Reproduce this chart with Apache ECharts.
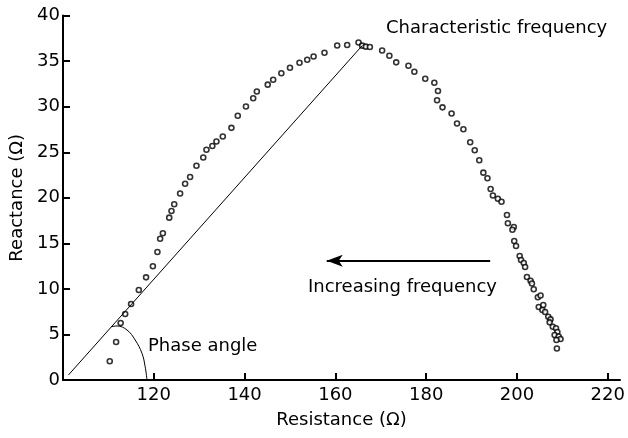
<!DOCTYPE html>
<html>
<head>
<meta charset="utf-8">
<script src="https://cdn.jsdelivr.net/npm/echarts@6/dist/echarts.min.js"></script>
<style>html,body{margin:0;padding:0;background:#fff;}#c{width:628px;height:438px;}</style>
</head>
<body>
<div id="c"></div>
<script>
// Measured impedance points: resistance (Ω) and reactance (Ω)
var resistance = [110.3,111.7,112.7,113.7,115.0,116.7,118.3,119.8,120.8,121.4,122.0,123.4,123.9,124.5,125.8,126.9,128.0,129.4,130.9,131.6,132.9,133.8,135.2,137.1,138.5,140.3,141.9,142.7,145.1,146.3,148.1,150.0,152.1,153.8,155.2,157.6,160.4,162.6,165.1,165.9,166.7,167.6,170.3,171.9,173.4,176.1,177.4,179.8,181.8,182.6,182.4,183.6,185.6,186.8,188.2,189.7,190.7,191.7,192.6,193.5,194.2,194.7,195.8,196.6,197.8,198.0,199.3,199.0,199.4,199.8,200.6,200.9,201.5,201.8,202.2,203.0,203.3,203.7,204.6,205.2,204.8,205.8,205.6,206.2,206.9,207.4,207.2,207.9,208.6,208.9,208.3,209.2,209.6,208.7,208.8];
var reactance = [2.05,4.17,6.26,7.24,8.34,9.88,11.27,12.48,14.05,15.51,16.11,17.82,18.55,19.30,20.47,21.55,22.28,23.52,24.42,25.27,25.69,26.18,26.73,27.68,29.00,30.02,30.92,31.67,32.42,32.96,33.67,34.27,34.83,35.16,35.51,35.93,36.72,36.77,37.05,36.70,36.59,36.55,36.17,35.60,34.87,34.50,33.84,33.06,32.63,31.72,30.70,29.93,29.25,28.16,27.53,26.09,25.22,24.12,22.76,22.14,20.97,20.25,19.90,19.56,18.11,17.20,16.79,16.50,15.26,14.71,13.61,13.17,12.84,12.40,11.31,10.90,10.59,9.96,9.08,9.28,8.01,8.23,7.68,7.46,6.95,6.66,6.33,5.85,5.68,5.27,4.94,4.78,4.50,4.39,3.46];

// Line from origin to characteristic frequency
var lineR = [101.2, 165.9];
var lineX = [0.55, 36.7];

// Phase angle arc
var arcR = [110.6, 111.9, 114.1, 115.9, 117.4, 118.1, 118.5];
var arcX = [5.85, 5.93, 5.49, 4.39, 2.93, 1.46, 0];

// Increasing-frequency arrow (tail -> head)
var arrowR = [194.1, 158.1];
var arrowX = [13.1, 13.1];

// Tick labels
var xTicks = [120, 140, 160, 180, 200, 220];

var pts = resistance.map(function (r, i) { return [r, reactance[i]]; });
var linePts = lineR.map(function (r, i) { return [r, lineX[i]]; });
var arcPts = arcR.map(function (r, i) { return [r, arcX[i]]; });

var FONT = 'DejaVu Sans';
var chart = echarts.init(document.getElementById('c'), null, {renderer: 'canvas'});
chart.setOption({
  animation: false,
  backgroundColor: '#fff',
  grid: {left: 63, right: 8, top: 15.6, bottom: 58},
  xAxis: {
    type: 'value', min: 100, max: 222.7,
    name: 'Resistance (Ω)', nameLocation: 'middle', nameGap: 31,
    nameTextStyle: {color: '#000', fontSize: 18, fontFamily: FONT},
    axisLine: {show: true, lineStyle: {color: '#000', width: 2}},
    axisTick: {show: true, inside: true, length: 7, lineStyle: {color: '#000', width: 2}, customValues: xTicks},
    axisLabel: {color: '#000', fontSize: 18, fontFamily: FONT, margin: 6, customValues: xTicks},
    splitLine: {show: false}
  },
  yAxis: {
    type: 'value', min: 0, max: 40, interval: 5,
    name: 'Reactance (Ω)', nameLocation: 'middle', nameGap: 35,
    nameTextStyle: {color: '#000', fontSize: 18, fontFamily: FONT},
    axisLine: {show: true, lineStyle: {color: '#000', width: 2}},
    axisTick: {show: true, inside: true, length: 7, lineStyle: {color: '#000', width: 2}},
    axisLabel: {color: '#000', fontSize: 18, fontFamily: FONT, margin: 3},
    splitLine: {show: false}
  },
  series: [
    {
      type: 'line', data: linePts, symbol: 'none', silent: true,
      lineStyle: {color: '#000', width: 1},
      markLine: {
        silent: true, animation: false,
        symbol: ['none', 'arrow'], symbolSize: [9, 16],
        label: {show: false},
        lineStyle: {color: '#000', width: 2, type: 'solid'},
        data: [[{coord: [arrowR[0], arrowX[0]]}, {coord: [arrowR[1], arrowX[1]]}]]
      }
    },
    {
      type: 'line', data: arcPts, symbol: 'none', smooth: 0.4, silent: true,
      lineStyle: {color: '#000', width: 1}
    },
    {
      type: 'scatter', data: pts, symbol: 'circle', symbolSize: 5,
      itemStyle: {color: '#fff', borderColor: '#000', borderWidth: 1.6}
    }
  ],
  graphic: [
    {type: 'text', x: 386, y: 28, style: {text: 'Characteristic frequency', fontSize: 18, fontFamily: FONT, fill: '#000', verticalAlign: 'middle', align: 'left'}},
    {type: 'text', x: 308, y: 287.5, style: {text: 'Increasing frequency', fontSize: 18, fontFamily: FONT, fill: '#000', verticalAlign: 'middle', align: 'left'}},
    {type: 'text', x: 148, y: 346, style: {text: 'Phase angle', fontSize: 18, fontFamily: FONT, fill: '#000', verticalAlign: 'middle', align: 'left'}}
  ]
});
</script>
</body>
</html>
